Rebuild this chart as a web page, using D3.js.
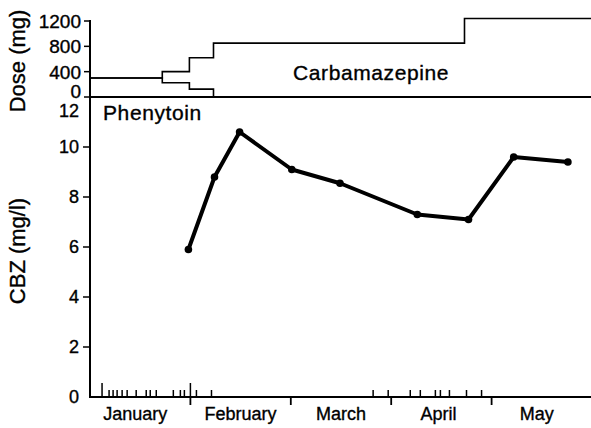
<!DOCTYPE html>
<html>
<head>
<meta charset="utf-8">
<script src="https://cdn.jsdelivr.net/npm/d3@7"></script>
<style>
  body { margin: 0; background: #fff; }
  svg text { font-family: "Liberation Sans", Arial, sans-serif; fill: #000; stroke: #000; stroke-width: 0.35px; }
</style>
</head>
<body>
<div id="chart"></div>
<script>
// months on the x axis, time measured in months from 1 January
let months = ["January", "February", "March", "April", "May"]
let monthLabelPos = [0.45, 1.5, 2.5, 3.47, 4.45]

// serum carbamazepine level (mg/l)
let cbzTime = [0.98, 1.24, 1.49, 2.01, 2.49, 3.26, 3.77, 4.22, 4.76]
let cbzLevel = [5.9, 8.8, 10.6, 9.1, 8.55, 7.3, 7.1, 9.6, 9.4]

// daily doses (mg), step changes
let phtStepTime = [0, 0.72, 0.99, 1.23]
let phtDose = [300, 225, 125, 0]
let cbzStepTime = [0, 0.72, 0.99, 1.23, 3.73]
let cbzDose = [300, 400, 620, 850, 1240]

// event marks along the time axis (tall = 1)
let eventTime = [0.12, 0.19, 0.23, 0.27, 0.32, 0.37, 0.46, 0.56, 0.6, 0.66, 0.83, 0.9, 0.94, 1.0, 1.06, 1.21,
    2.82, 2.97, 3.19, 3.29, 3.44, 3.49, 3.58, 3.75, 3.9]
let eventTall = [1, 0, 0, 0, 0, 0, 0, 0, 0, 0, 0, 0, 0, 1, 0, 0,
    0, 0, 0, 0, 0, 0, 0, 0, 0]

let doseTicks = [0, 400, 800, 1200]
let levelTicks = [0, 2, 4, 6, 8, 10]

let width = 591
let height = 428

let svg = d3.select("#chart")
    .append("svg")
    .attr("width", width)
    .attr("height", height)

let x = d3.scaleLinear().domain([0, 5]).range([90, 592])
let yDose = d3.scaleLinear().domain([0, 1200]).range([97, 21])
let y = d3.scaleLinear().domain([0, 12]).range([397, 97])

// ---- top panel: doses ----
let stepLine = d3.line()
    .x(d => x(d[0]))
    .y(d => yDose(d[1]))
    .curve(d3.curveStepAfter)

let phtPts = phtStepTime.map((t, i) => [t, phtDose[i]])
phtPts.push([5, phtDose[phtDose.length - 1]])
let cbzPts = cbzStepTime.map((t, i) => [t, cbzDose[i]])
cbzPts.push([5, cbzDose[cbzDose.length - 1]])

svg.append("line")
    .attr("x1", x(0)).attr("x2", width)
    .attr("y1", yDose(0)).attr("y2", yDose(0))
    .attr("stroke", "black").attr("stroke-width", 2)

;[phtPts, cbzPts].forEach(pts => {
    svg.append("path")
        .attr("d", stepLine(pts))
        .attr("fill", "none")
        .attr("stroke", "black")
        .attr("stroke-width", 1.6)
})

svg.selectAll(".doseTick")
    .data(doseTicks)
    .enter()
    .append("line")
    .attr("x1", x(0) - 6).attr("x2", x(0))
    .attr("y1", d => yDose(d)).attr("y2", d => yDose(d))
    .attr("stroke", "black").attr("stroke-width", 1.5)

svg.selectAll(".doseLabel")
    .data(doseTicks)
    .enter()
    .append("text")
    .attr("x", 81)
    .attr("y", d => d === 0 ? yDose(d) - 6 : yDose(d))
    .attr("dy", "0.36em")
    .attr("text-anchor", "end")
    .style("font-size", "19px")
    .text(d => d)

svg.append("text")
    .attr("transform", "translate(25," + 61 + ") rotate(-90)")
    .attr("text-anchor", "middle")
    .style("font-size", "22px")
    .text("Dose (mg)")

svg.append("text")
    .attr("x", 293).attr("y", 80)
    .style("font-size", "21px")
    .style("letter-spacing", "0.6px")
    .text("Carbamazepine")

svg.append("text")
    .attr("x", 103).attr("y", 120)
    .style("font-size", "21px")
    .style("letter-spacing", "0.6px")
    .text("Phenytoin")

// ---- main panel: CBZ level ----
svg.append("line")
    .attr("x1", x(0)).attr("x2", x(0))
    .attr("y1", yDose(1200) - 1).attr("y2", y(0) + 1)
    .attr("stroke", "black").attr("stroke-width", 2)

svg.append("line")
    .attr("x1", x(0)).attr("x2", width)
    .attr("y1", y(0)).attr("y2", y(0))
    .attr("stroke", "black").attr("stroke-width", 2.2)

svg.selectAll(".levelTick")
    .data(levelTicks.filter(d => d > 0))
    .enter()
    .append("line")
    .attr("x1", x(0) - 7).attr("x2", x(0))
    .attr("y1", d => y(d)).attr("y2", d => y(d))
    .attr("stroke", "black").attr("stroke-width", 1.5)

svg.selectAll(".levelLabel")
    .data(levelTicks.concat([12]))
    .enter()
    .append("text")
    .attr("x", 79)
    .attr("y", d => d === 12 ? y(d) + 14 : y(d))
    .attr("dy", "0.36em")
    .attr("text-anchor", "end")
    .style("font-size", "18px")
    .text(d => d)

svg.append("text")
    .attr("transform", "translate(25," + 251 + ") rotate(-90)")
    .attr("text-anchor", "middle")
    .style("font-size", "22px")
    .text("CBZ (mg/l)")

// month ticks below the axis
svg.selectAll(".monthTick")
    .data([1, 2, 3, 4])
    .enter()
    .append("line")
    .attr("x1", d => x(d)).attr("x2", d => x(d))
    .attr("y1", y(0)).attr("y2", y(0) + 8)
    .attr("stroke", "black").attr("stroke-width", 1.8)

svg.selectAll(".monthLabel")
    .data(months)
    .enter()
    .append("text")
    .attr("x", (d, i) => x(monthLabelPos[i]))
    .attr("y", 420)
    .attr("text-anchor", "middle")
    .style("font-size", "18px")
    .text(d => d)

// event marks above the axis
svg.selectAll(".event")
    .data(eventTime)
    .enter()
    .append("line")
    .attr("x1", d => x(d)).attr("x2", d => x(d))
    .attr("y1", (d, i) => y(0) - (eventTall[i] ? 14 : 7))
    .attr("y2", y(0))
    .attr("stroke", "black").attr("stroke-width", 1.5)

let levelLine = d3.line()
    .x(d => x(d[0]))
    .y(d => y(d[1]))

let levelPts = cbzTime.map((t, i) => [t, cbzLevel[i]])

svg.append("path")
    .attr("d", levelLine(levelPts))
    .attr("fill", "none")
    .attr("stroke", "black")
    .attr("stroke-width", 4)
    .attr("stroke-linejoin", "round")

svg.selectAll(".dot")
    .data(levelPts)
    .enter()
    .append("circle")
    .attr("cx", d => x(d[0]))
    .attr("cy", d => y(d[1]))
    .attr("r", 3.8)
    .attr("fill", "black")
</script>
</body>
</html>
